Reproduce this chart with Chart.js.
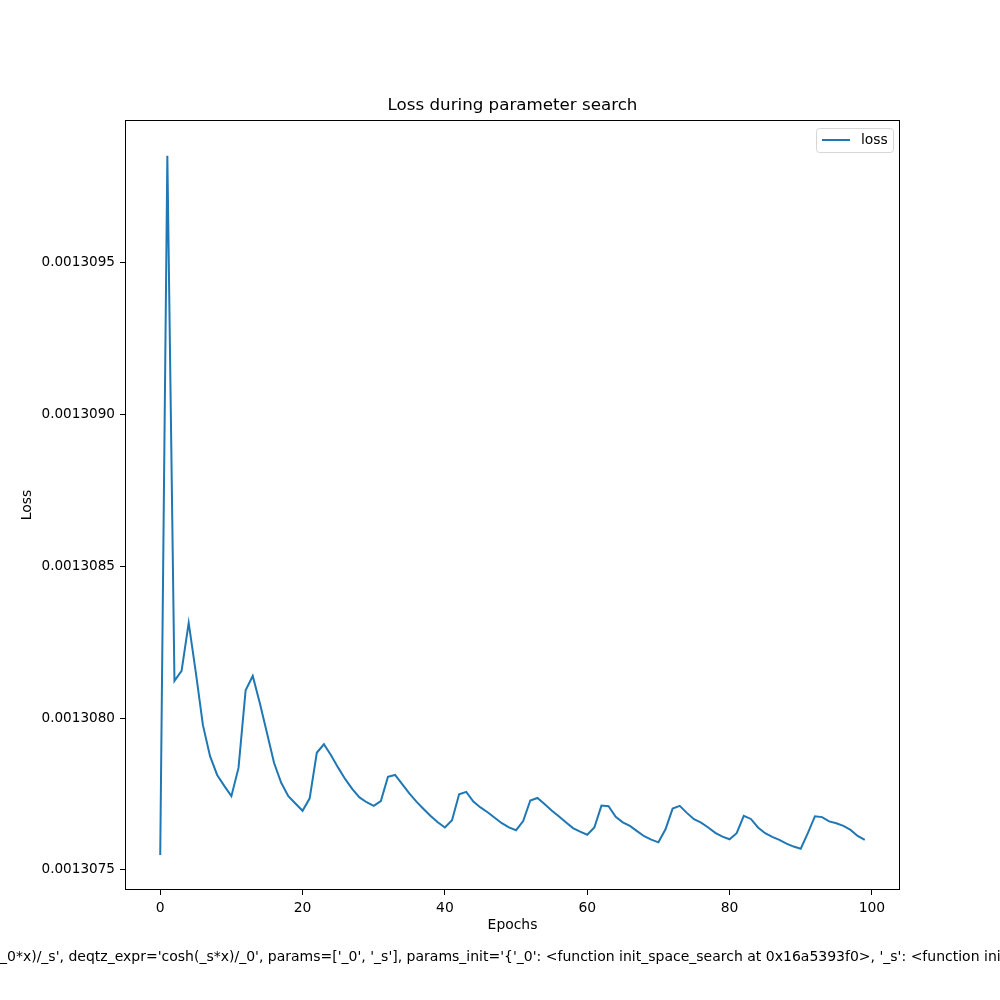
<!DOCTYPE html>
<html>
<head>
<meta charset="utf-8">
<script src="https://cdn.jsdelivr.net/npm/chart.js@4"></script>
<style>
  html, body { margin: 0; padding: 0; background: #fff; }
  #wrap { width: 1000px; height: 1000px; }
</style>
</head>
<body>
<div id="wrap"><canvas id="lossChart" width="1000" height="1000"></canvas></div>
<script>
// loss per epoch
const lossValues = [
    0.001307549, 0.001309852, 0.001308123, 0.001308156, 0.001308314, 0.001308151, 0.001307977, 0.001307875, 0.001307813, 0.001307777,
    0.001307743, 0.001307836, 0.001308092, 0.001308139, 0.001308049, 0.001307951, 0.001307852, 0.001307787, 0.001307743, 0.001307719,
    0.001307695, 0.001307736, 0.001307886, 0.001307914, 0.001307878, 0.001307837, 0.001307799, 0.001307766, 0.001307739, 0.001307723,
    0.001307711, 0.001307727, 0.001307807, 0.001307813, 0.001307783, 0.001307752, 0.001307725, 0.001307701, 0.001307678, 0.001307657,
    0.001307640, 0.001307664, 0.001307749, 0.001307757, 0.001307725, 0.001307706, 0.001307690, 0.001307672, 0.001307654, 0.001307640,
    0.001307631, 0.001307661, 0.001307729, 0.001307737, 0.001307717, 0.001307696, 0.001307677, 0.001307657, 0.001307638, 0.001307626,
    0.001307616, 0.001307640, 0.001307712, 0.001307710, 0.001307675, 0.001307657, 0.001307645, 0.001307628, 0.001307611, 0.001307600,
    0.001307591, 0.001307634, 0.001307702, 0.001307711, 0.001307688, 0.001307667, 0.001307656, 0.001307640, 0.001307622, 0.001307610,
    0.001307601, 0.001307621, 0.001307678, 0.001307668, 0.001307640, 0.001307621, 0.001307609, 0.001307599, 0.001307587, 0.001307577,
    0.001307570, 0.001307621, 0.001307677, 0.001307674, 0.001307660, 0.001307654, 0.001307645, 0.001307632, 0.001307612, 0.001307599
];
const epochs = lossValues.map((v, i) => i);

const xTicks = [0, 20, 40, 60, 80, 100];
const yTicks = [0.0013075, 0.0013080, 0.0013085, 0.0013090, 0.0013095];

const chartTitle = 'Loss during parameter search';
const xTitle = 'Epochs';
const yTitle = 'Loss';
const seriesLabel = 'loss';
const footText = "_0*x)/_s', deqtz_expr='cosh(_s*x)/_0', params=['_0', '_s'], params_init='{'_0': <function init_space_search at 0x16a5393f0>, '_s': <function init";

const FONT = '"DejaVu Sans", sans-serif';
const LINE_COLOR = '#1f77b4';

// titles, frame, legend and the footer text, drawn matplotlib style
const extras = {
    id: 'extras',
    afterDraw(chart) {
        const ctx = chart.ctx;
        const a = chart.chartArea;
        ctx.save();

        // frame on all four sides
        ctx.strokeStyle = '#000';
        ctx.lineWidth = 1;
        ctx.strokeRect(a.left + 0.5, a.top + 0.5, a.right - a.left - 1, a.bottom - a.top - 1);

        ctx.fillStyle = '#000';
        ctx.textAlign = 'center';
        ctx.textBaseline = 'middle';

        ctx.font = '16.7px ' + FONT;
        ctx.fillText(chartTitle, (a.left + a.right) / 2, 106);

        ctx.font = '13.9px ' + FONT;
        ctx.fillText(xTitle, (a.left + a.right) / 2, 925);

        ctx.save();
        ctx.translate(27, (a.top + a.bottom) / 2);
        ctx.rotate(-Math.PI / 2);
        ctx.fillText(yTitle, 0, 0);
        ctx.restore();

        // legend box
        const lx = 816, ly = 128, lw = 77, lh = 24;
        ctx.beginPath();
        ctx.roundRect(lx + 0.5, ly + 0.5, lw, lh, 3);
        ctx.fillStyle = 'rgba(255,255,255,0.8)';
        ctx.fill();
        ctx.strokeStyle = '#d6d6d6';
        ctx.stroke();
        ctx.beginPath();
        ctx.moveTo(822, ly + 12);
        ctx.lineTo(850, ly + 12);
        ctx.strokeStyle = LINE_COLOR;
        ctx.lineWidth = 2;
        ctx.stroke();
        ctx.fillStyle = '#000';
        ctx.textAlign = 'left';
        ctx.fillText(seriesLabel, 861, ly + 12);

        // footer, runs off both sides of the figure
        ctx.font = '14px ' + FONT;
        ctx.fillText(footText, 0, 957);
        ctx.restore();
    }
};

new Chart(document.getElementById('lossChart'), {
    type: 'line',
    data: {
        datasets: [{
            label: seriesLabel,
            data: epochs.map((e, i) => ({ x: e, y: lossValues[i] })),
            borderColor: LINE_COLOR,
            borderWidth: 2,
            pointRadius: 0,
            tension: 0,
            fill: false
        }]
    },
    options: {
        responsive: false,
        animation: false,
        devicePixelRatio: 1,
        layout: {
            padding: { top: 120, right: 100, left: 0, bottom: 0 }
        },
        scales: {
            x: {
                type: 'linear',
                min: -4.95,
                max: 103.95,
                afterBuildTicks: (axis) => { axis.ticks = xTicks.map(v => ({ value: v })); },
                afterFit: (axis) => { axis.height = 110; },
                border: { display: false },
                grid: {
                    drawOnChartArea: false,
                    drawTicks: true,
                    tickLength: 5,
                    color: '#000'
                },
                ticks: {
                    color: '#000',
                    padding: 5,
                    maxRotation: 0,
                    font: { family: FONT, size: 13.9 },
                    callback: (v) => String(v)
                }
            },
            y: {
                type: 'linear',
                min: 0.001307434,
                max: 0.00130997,
                afterBuildTicks: (axis) => { axis.ticks = yTicks.map(v => ({ value: v })); },
                afterFit: (axis) => { axis.width = 125; },
                border: { display: false },
                grid: {
                    drawOnChartArea: false,
                    drawTicks: true,
                    tickLength: 5,
                    color: '#000'
                },
                ticks: {
                    color: '#000',
                    padding: 5,
                    font: { family: FONT, size: 13.6 },
                    callback: (v) => v.toFixed(7)
                }
            }
        },
        plugins: {
            legend: { display: false },
            title: { display: false },
            tooltip: { enabled: false }
        }
    },
    plugins: [extras]
});
</script>
</body>
</html>
